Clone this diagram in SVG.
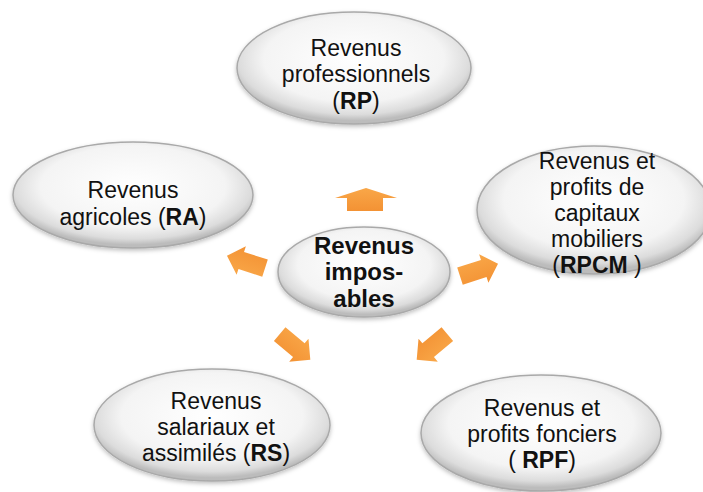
<svg xmlns="http://www.w3.org/2000/svg" width="703" height="492" viewBox="0 0 703 492">
<defs>
<radialGradient id="eg" cx="50%" cy="42%" r="55%">
<stop offset="0" stop-color="#ffffff"/>
<stop offset="0.7" stop-color="#f4f4f4"/>
<stop offset="0.9" stop-color="#dcdcdc"/>
<stop offset="1" stop-color="#bcbcbc"/>
</radialGradient>
<linearGradient id="ag" x1="0" y1="0" x2="0" y2="1">
<stop offset="0" stop-color="#f9a748"/>
<stop offset="1" stop-color="#f39234"/>
</linearGradient>
<filter id="sh" x="-10%" y="-10%" width="120%" height="130%">
<feDropShadow dx="0" dy="2" stdDeviation="2" flood-color="#000" flood-opacity="0.25"/>
</filter>
<path id="arr" d="M-20,-9 H5 V-15 L20,0 L5,15 V9 H-20 Z"/>
</defs>
<style>
.n{fill:url(#eg);stroke:#a9a9a9;stroke-width:1.5;filter:url(#sh)}
.t{font-family:"Liberation Sans",Arial,sans-serif;font-size:23px;fill:#111;text-anchor:middle}
.b{font-weight:bold}
.c{font-size:24px}
.a{fill:url(#ag)}
</style>
<rect width="703" height="492" fill="#fff"/>
<g id="connectors">
<path class="a" d="M347,211 V198 H335 L366,188 L397,198 H383 V211 Z"/>
<use href="#arr" class="a" transform="translate(246,262) rotate(198)"/>
<use href="#arr" class="a" transform="translate(479,270) rotate(-18)"/>
<use href="#arr" class="a" transform="translate(295,347) rotate(40)"/>
<use href="#arr" class="a" transform="translate(432,347) rotate(140)"/>
</g>
<g id="rp">
<ellipse class="n" cx="354" cy="68" rx="117" ry="56"/>
<text class="t"><tspan x="356" y="56">Revenus</tspan><tspan x="356" y="82">professionnels</tspan><tspan x="356" y="109">(<tspan class="b">RP</tspan>)</tspan></text>
</g>
<g id="ra">
<ellipse class="n" cx="133" cy="195" rx="120" ry="53"/>
<text class="t"><tspan x="133" y="198">Revenus</tspan><tspan x="133" y="225">agricoles (<tspan class="b">RA</tspan>)</tspan></text>
</g>
<g id="rpcm">
<ellipse class="n" cx="594" cy="210" rx="117" ry="64"/>
<text class="t"><tspan x="597" y="169">Revenus et</tspan><tspan x="597" y="195">profits de</tspan><tspan x="597" y="221">capitaux</tspan><tspan x="597" y="247">mobiliers</tspan><tspan x="597" y="273">(<tspan class="b">RPCM</tspan> )</tspan></text>
</g>
<g id="ri">
<ellipse class="n" cx="364" cy="272" rx="86" ry="45"/>
<text class="t b c"><tspan x="364" y="254">Revenus</tspan><tspan x="364" y="280">impos-</tspan><tspan x="364" y="307">ables</tspan></text>
</g>
<g id="rs">
<ellipse class="n" cx="212" cy="425" rx="118" ry="56"/>
<text class="t"><tspan x="216" y="409">Revenus</tspan><tspan x="216" y="435">salariaux et</tspan><tspan x="216" y="461">assimilés (<tspan class="b">RS</tspan>)</tspan></text>
</g>
<g id="rpf">
<ellipse class="n" cx="541" cy="433" rx="120" ry="58"/>
<text class="t"><tspan x="542" y="416">Revenus et</tspan><tspan x="542" y="442">profits fonciers</tspan><tspan x="542" y="468">( <tspan class="b">RPF</tspan>)</tspan></text>
</g>
</svg>
